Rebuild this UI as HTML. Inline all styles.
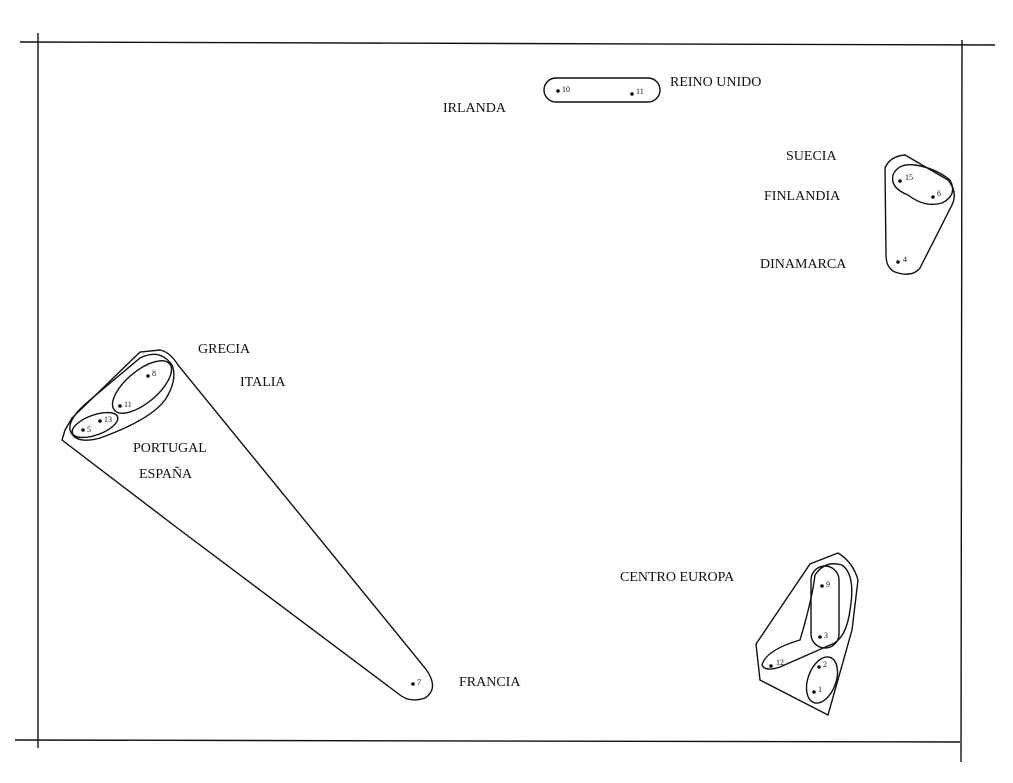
<!DOCTYPE html>
<html><head><meta charset="utf-8"><style>
html,body{margin:0;padding:0;background:#fff}
svg{display:block}
text{font-family:"Liberation Serif",serif;font-size:14px;fill:#111}
.n{font-size:8px}
</style></head><body>
<svg width="1013" height="783" viewBox="0 0 1013 783" xmlns="http://www.w3.org/2000/svg">
<g stroke="#111" stroke-width="1.4" fill="none">
<line x1="20" y1="42" x2="995" y2="45"/>
<line x1="38" y1="33" x2="38" y2="748"/>
<line x1="962" y1="40" x2="961" y2="762"/>
<line x1="15" y1="740" x2="960" y2="742"/>
<!-- Irlanda / Reino Unido -->
<rect x="544" y="78" width="116" height="24" rx="12"/>
<!-- Suecia cluster -->
<path d="M885 168 Q890 156 905 155 L948 180 Q958 192 952 205 L920 268 Q912 278 895 272 Q886 268 886 255 Z"/>
<path d="M893 175 Q898 163 915 165 Q935 168 950 180 Q958 195 942 203 Q925 208 908 195 Q890 188 893 175 Z"/>
<!-- Greece/Italy/Portugal/Spain/France -->
<path d="M65 430 L72 418 L140 352 L160 350 Q170 352 178 365 L425 668 Q440 688 425 698 Q410 703 400 695 L180 530 L62 440 Z"/>
<path d="M70 430 Q68 418 90 400 L140 358 Q160 348 172 365 Q178 380 165 400 Q150 420 100 438 Q75 445 70 430 Z"/>
<ellipse cx="142" cy="387" rx="36" ry="16" transform="rotate(-40 142 387)"/>
<ellipse cx="95" cy="425" rx="24" ry="10" transform="rotate(-20 95 425)"/>
<!-- Centro Europa -->
<path d="M756 644 L810 564 L838 553 Q853 562 858 580 L852 630 L828 715 L760 680 Z"/>
<path d="M762 665 Q766 650 800 640 Q812 600 815 575 Q825 560 842 565 Q856 575 850 610 Q846 640 830 645 L780 667 Q765 672 762 665 Z"/>
<rect x="811" y="566" width="28" height="82" rx="14"/>
<ellipse cx="822" cy="680" rx="14" ry="24" transform="rotate(20 822 680)"/>
</g>
<g fill="#111">
<circle cx="558" cy="91" r="1.8"/><circle cx="632" cy="94" r="1.8"/>
<circle cx="900" cy="181" r="1.8"/><circle cx="933" cy="197" r="1.8"/><circle cx="898" cy="262" r="1.8"/>
<circle cx="148" cy="376" r="1.8"/><circle cx="120" cy="406" r="1.8"/><circle cx="100" cy="421" r="1.8"/><circle cx="83" cy="430" r="1.8"/>
<circle cx="413" cy="684" r="1.8"/>
<circle cx="822" cy="586" r="1.8"/><circle cx="820" cy="637" r="1.8"/><circle cx="771" cy="666" r="1.8"/><circle cx="819" cy="667" r="1.8"/><circle cx="814" cy="692" r="1.8"/>
</g>
<text class="n" x="562" y="92">10</text><text class="n" x="636" y="94">11</text>
<text class="n" x="905" y="180">15</text><text class="n" x="937" y="196">6</text><text class="n" x="903" y="262">4</text>
<text class="n" x="152" y="376">8</text><text class="n" x="124" y="407">11</text><text class="n" x="104" y="422">13</text><text class="n" x="87" y="432">5</text>
<text class="n" x="417" y="685">7</text>
<text class="n" x="826" y="587">9</text><text class="n" x="824" y="638">3</text><text class="n" x="776" y="665">12</text><text class="n" x="823" y="667">2</text><text class="n" x="818" y="692">1</text>
<text x="443" y="112">IRLANDA</text>
<text x="670" y="86">REINO UNIDO</text>
<text x="786" y="160">SUECIA</text>
<text x="764" y="200">FINLANDIA</text>
<text x="760" y="268">DINAMARCA</text>
<text x="198" y="353">GRECIA</text>
<text x="240" y="386">ITALIA</text>
<text x="133" y="452">PORTUGAL</text>
<text x="139" y="478">ESPAÑA</text>
<text x="620" y="581">CENTRO EUROPA</text>
<text x="459" y="686">FRANCIA</text>
</svg>
</body></html>
